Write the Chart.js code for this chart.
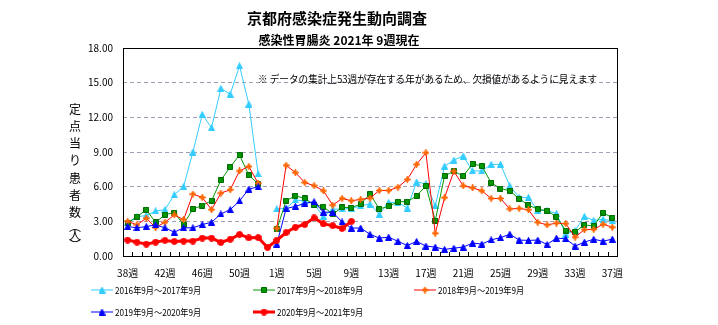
<!DOCTYPE html>
<html>
<head>
<meta charset="utf-8">
<script src="https://cdn.jsdelivr.net/npm/chart.js@4.4.0/dist/chart.umd.min.js"></script>
<style>
  html, body { margin: 0; padding: 0; background: #fff; }
</style>
</head>
<body>
<canvas id="chart" width="718" height="325"></canvas>
<script>
// 週ラベル（2020年は53週あり）
const weeks = ['38週','39週','40週','41週','42週','43週','44週','45週','46週','47週','48週','49週','50週','51週','52週','53週',
  '1週','2週','3週','4週','5週','6週','7週','8週','9週','10週','11週','12週','13週','14週','15週','16週','17週','18週',
  '19週','20週','21週','22週','23週','24週','25週','26週','27週','28週','29週','30週','31週','32週','33週','34週',
  '35週','36週','37週'];

const seasonNames = ['2016年9月～2017年9月', '2017年9月～2018年9月', '2018年9月～2019年9月',
  '2019年9月～2020年9月', '2020年9月～2021年9月'];

// 定点当り患者数
const s2016 = [2.9, 3.4, 3.5, 3.9, 4.0, 5.3, 6.0, 9.0, 12.25, 11.1, 14.5, 14.0, 16.45, 13.15, 7.1, null,
  4.07, 4.13, 4.85, 4.75, 4.5, 3.42, 4.05, 4.07, 4.1, 4.35, 4.5, 3.6, 4.64, 4.64, 4.15, 6.4, 6.25, 4.35,
  7.77, 8.3, 8.65, 7.36, 7.36, 7.93, 7.93, 6.07, 5.07, 5.07, 3.92, 3.95, 3.67, 1.9, 2.2, 3.42, 3.08, 3.18, 3.05];
const s2017 = [2.85, 3.4, 4.0, 2.9, 3.58, 3.75, 2.72, 4.07, 4.36, 4.79, 6.56, 7.7, 8.74, 6.99, 6.25, null,
  2.3, 4.78, 5.21, 4.98, 4.44, 4.27, 3.62, 4.21, 4.18, 4.5, 5.36, 4.07, 4.3, 4.7, 4.7, 5.21, 6.07, 3.06,
  6.93, 7.33, 6.93, 7.97, 7.79, 6.33, 5.84, 5.64, 4.95, 4.4, 4.05, 3.92, 3.4, 2.2, 2.08, 2.69, 2.6, 3.75, 3.3];
const s2018 = [3.0, 2.69, 3.27, 2.46, 2.92, 3.55, 3.15, 5.36, 5.07, 4.01, 5.44, 5.73, 7.36, 7.74, 6.3, null,
  2.4, 7.85, 7.22, 6.36, 6.08, 5.64, 4.4, 4.98, 4.78, 4.9, 5.01, 5.67, 5.67, 5.95, 6.62, 7.93, 8.94, 1.97,
  5.05, 7.33, 6.07, 5.9, 5.64, 4.98, 4.98, 4.07, 4.12, 4.0, 2.92, 2.69, 2.85, 2.8, 1.63, 2.28, 2.3, 2.75, 2.49];
const s2019 = [2.55, 2.44, 2.55, 2.69, 2.44, 2.06, 2.44, 2.44, 2.72, 2.92, 3.64, 4.01, 4.76, 5.79, 5.99, null,
  1.03, 4.1, 4.3, 4.55, 4.7, 3.8, 3.78, 2.95, 2.42, 2.42, 1.88, 1.55, 1.63, 1.27, 0.91, 1.26, 0.86, 0.77,
  0.57, 0.68, 0.77, 1.12, 1.03, 1.4, 1.58, 1.89, 1.38, 1.35, 1.38, 1.0, 1.55, 1.49, 0.86, 1.2, 1.45, 1.28, 1.46];
const s2020 = [1.38, 1.2, 1.03, 1.2, 1.35, 1.26, 1.29, 1.29, 1.55, 1.55, 1.17, 1.45, 1.87, 1.57, 1.6, 0.74,
  1.36, 2.03, 2.49, 2.73, 3.3, 2.78, 2.63, 2.38, 3.0];

const yTicks = [0, 3, 6, 9, 12, 15, 18];

const FONT = '"Noto Sans CJK JP", "Noto Sans", sans-serif';
Chart.defaults.font.family = FONT;
Chart.defaults.color = '#000';

// マーカー画像
function marker(shape, size, fill, stroke) {
  const c = document.createElement('canvas');
  c.width = c.height = size;
  const g = c.getContext('2d');
  const m = size / 2;
  g.fillStyle = fill;
  g.strokeStyle = stroke;
  g.lineWidth = 1;
  g.beginPath();
  if (shape === 'triangle') {
    g.moveTo(m, 0.5); g.lineTo(size - 0.5, size - 0.5); g.lineTo(0.5, size - 0.5); g.closePath();
  } else if (shape === 'square') {
    g.rect(0.5, 0.5, size - 1, size - 1);
  } else if (shape === 'star') {
    const k = size * 0.14;
    g.moveTo(m, 0); g.lineTo(m + k, m - k); g.lineTo(size, m); g.lineTo(m + k, m + k);
    g.lineTo(m, size); g.lineTo(m - k, m + k); g.lineTo(0, m); g.lineTo(m - k, m - k); g.closePath();
  } else {
    g.arc(m, m, m - 0.5, 0, Math.PI * 2);
  }
  g.fill();
  g.stroke();
  return c;
}

const markers = [
  marker('triangle', 7, '#33ccff', '#33ccff'),
  marker('square', 6, '#009900', '#006600'),
  marker('star', 7, '#ff6600', '#ff6600'),
  marker('triangle', 7, '#0000ff', '#0000ff'),
  marker('circle', 7, '#ff0000', '#ff0000')
];
const lineColors = ['#33ccff', '#009900', '#ff0000', '#0000ff', '#ff0000'];
const lineWidths = [1, 1, 1, 1, 3];
const series = [s2016, s2017, s2018, s2019, s2020];

const datasets = series.map((d, i) => ({
  label: seasonNames[i],
  data: d,
  borderColor: lineColors[i],
  backgroundColor: lineColors[i],
  borderWidth: lineWidths[i],
  pointStyle: markers[i],
  pointRadius: 4,
  tension: 0,
  spanGaps: false,
  order: 4 - i
}));

// 枠線・目盛・タイトル・凡例などを描く
const decorations = {
  id: 'decorations',
  afterDraw(chart) {
    const ctx = chart.ctx;
    const a = chart.chartArea;
    ctx.save();

    // プロットエリアの枠
    ctx.strokeStyle = '#000';
    ctx.lineWidth = 1;
    ctx.strokeRect(Math.round(a.left) + 0.5, Math.round(a.top) + 0.5,
      Math.round(a.right - a.left), Math.round(a.bottom - a.top));

    // 項目の区切りに内向きの目盛
    const n = chart.data.labels.length;
    const w = (a.right - a.left) / n;
    ctx.beginPath();
    for (let i = 1; i < n; i++) {
      const x = Math.round(a.left + i * w) + 0.5;
      ctx.moveTo(x, Math.round(a.bottom));
      ctx.lineTo(x, Math.round(a.bottom) - 4);
    }
    ctx.stroke();

    ctx.fillStyle = '#000';
    ctx.textAlign = 'center';
    ctx.textBaseline = 'middle';
    ctx.font = 'bold 15px ' + FONT;
    ctx.fillText('京都府感染症発生動向調査', 337, 18);
    ctx.font = 'bold 12px ' + FONT;
    ctx.fillText('感染性胃腸炎 2021年 9週現在', 339, 40);

    // 縦書きの軸タイトル
    ctx.font = '12px ' + FONT;
    const yTitle = ['定', '点', '当', 'り', '患', '者', '数'];
    yTitle.forEach((ch, i) => ctx.fillText(ch, 75, 109 + i * 17.3));
    ctx.fillText('︵', 75, 226);
    ctx.fillText('人', 75, 235);
    ctx.fillText('︶', 75, 245);

    // 注記
    ctx.textAlign = 'left';
    ctx.save();
    ctx.translate(258, 79);
    ctx.scale(0.96, 1);
    ctx.font = '10px ' + FONT;
    ctx.fillText('※ データの集計上53週が存在する年があるため、欠損値があるように見えます', 0, 0);
    ctx.restore();

    // 凡例（3列）
    const colX = [91, 253, 414];
    const rowY = [290, 312];
    chart.data.datasets.forEach((ds, i) => {
      const x = colX[i % 3];
      const y = rowY[Math.floor(i / 3)];
      ctx.strokeStyle = ds.borderColor;
      ctx.lineWidth = ds.borderWidth;
      ctx.beginPath();
      ctx.moveTo(x, y);
      ctx.lineTo(x + 22, y);
      ctx.stroke();
      const img = ds.pointStyle;
      ctx.drawImage(img, x + 11 - img.width / 2, y - img.height / 2);
      ctx.save();
      ctx.translate(x + 24, y);
      ctx.scale(0.86, 1);
      ctx.fillStyle = '#000';
      ctx.font = '9.5px ' + FONT;
      ctx.fillText(ds.label, 0, 0);
      ctx.restore();
    });

    ctx.restore();
  }
};

new Chart(document.getElementById('chart'), {
  type: 'line',
  data: { labels: weeks, datasets: datasets },
  options: {
    responsive: false,
    animation: false,
    layout: { padding: { left: 83, right: 101, top: 48, bottom: 39 } },
    plugins: {
      legend: { display: false },
      title: { display: false },
      tooltip: { enabled: false }
    },
    scales: {
      x: {
        offset: true,
        grid: { display: false },
        border: { display: false },
        afterFit(scale) { scale.height = 30; },
        ticks: {
          autoSkip: false,
          maxRotation: 0,
          padding: 3,
          font: { size: 10 },
          callback(value, index) { return index % 4 === 0 ? weeks[index] : ''; }
        }
      },
      y: {
        min: 0,
        max: 18,
        afterFit(scale) { scale.width = 40; },
        afterBuildTicks(scale) { scale.ticks = yTicks.map(v => ({ value: v })); },
        grid: {
          drawTicks: false,
          lineWidth: 1,
          color: ctx => (ctx.tick && (ctx.tick.value === 0 || ctx.tick.value === 18)) ? 'rgba(0,0,0,0)' : '#a39fb6'
        },
        border: { display: false, dash: [4, 3] },
        ticks: {
          padding: 10,
          font: { size: 10 },
          callback: v => v.toFixed(2)
        }
      }
    }
  },
  plugins: [decorations]
});
</script>
</body>
</html>
